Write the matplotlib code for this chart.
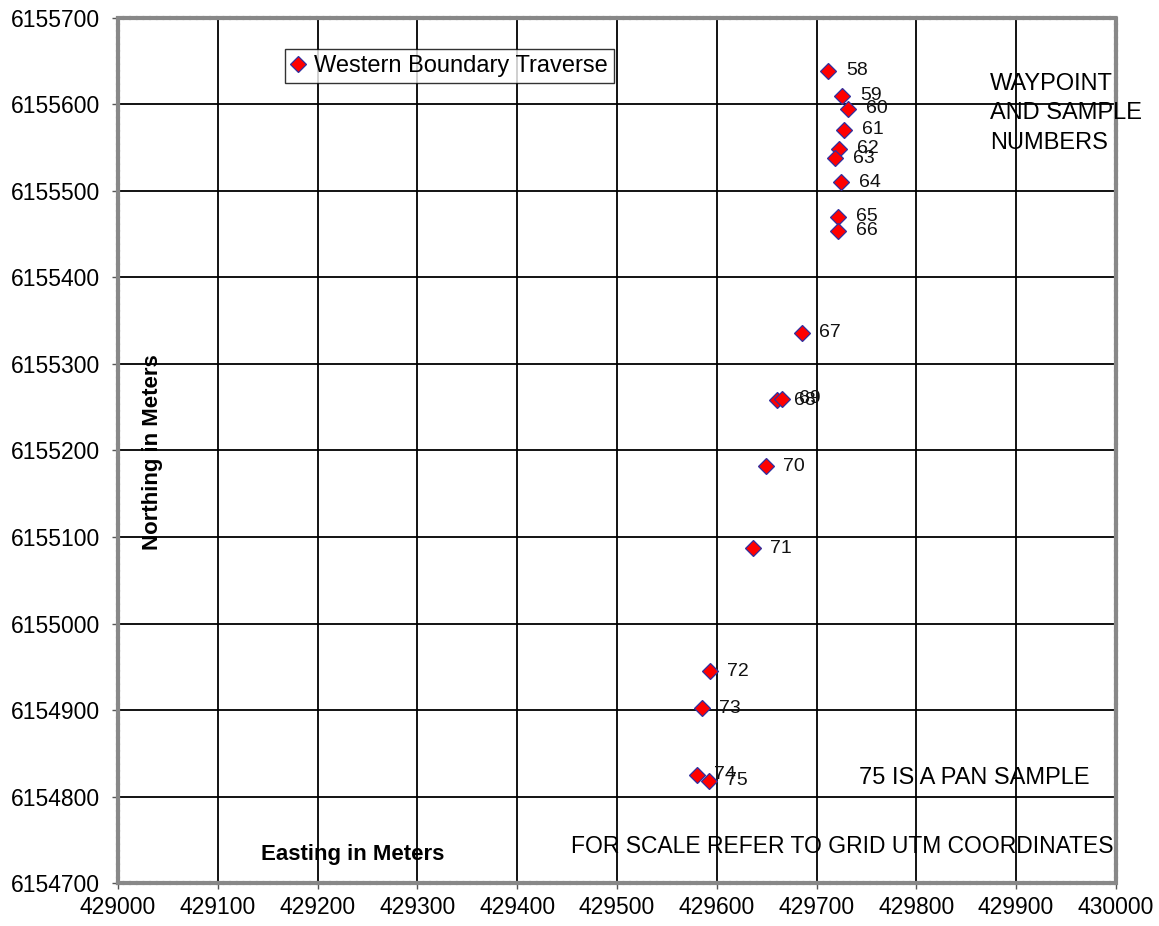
import matplotlib.pyplot as plt
import numpy as np

plt.rcParams['font.family'] = ['Liberation Sans', 'DejaVu Sans']

# waypoint / sample positions (UTM easting, northing)
samples = ['58', '59', '60', '61', '62', '63', '64', '65', '66', '67',
           '68', '69', '70', '71', '72', '73', '74', '75']
easting = [429712, 429726, 429732, 429728, 429723, 429719, 429725, 429722, 429722,
           429685, 429660, 429665, 429649, 429636, 429593, 429585, 429580, 429592]
northing = [6155639, 6155610, 6155595, 6155571, 6155549, 6155538, 6155510, 6155470,
            6155454, 6155336, 6155258, 6155260, 6155182, 6155087, 6154945, 6154902,
            6154825, 6154818]

xticks = list(range(429000, 430001, 100))
yticks = list(range(6154700, 6155701, 100))

fig = plt.figure(figsize=(11.59, 9.26), dpi=100)
ax = fig.add_axes([0.1018, 0.0464, 0.861, 0.9342])

ax.plot(easting, northing, linestyle='none', marker='D', markersize=8.5,
        markerfacecolor='#ff0000', markeredgecolor='#3030a0', markeredgewidth=0.9,
        label='Western Boundary Traverse', zorder=3)

for name, e, n in zip(samples, easting, northing):
    ax.annotate(name, (e, n), xytext=(12.5, 0), textcoords='offset points',
                va='center', ha='left', fontsize=14, color='#111111')

ax.set_xlim(429000, 430000)
ax.set_ylim(6154700, 6155700)
ax.set_xticks(xticks)
ax.set_yticks(yticks)
ax.set_xticklabels([str(v) for v in xticks], fontsize=16.5)
ax.set_yticklabels([str(v) for v in yticks], fontsize=16.5)
ax.tick_params(axis='y', length=4, width=1, color='#555555', pad=9)
ax.tick_params(axis='x', length=4, width=1, color='#555555', pad=5)

ax.grid(True, color='black', linewidth=1.3)
ax.set_axisbelow(True)
for s in ax.spines.values():
    s.set_color('#888888')
    s.set_linewidth(3)
    s.set_linestyle((0, (1, 0.6)))

leg = ax.legend(loc='upper left', bbox_to_anchor=(0.167, 0.964), fontsize=17,
                frameon=True, fancybox=False, edgecolor='black', handlelength=0.6,
                handletextpad=0.4, borderpad=0.25, borderaxespad=0)
leg.get_frame().set_linewidth(1.0)

ax.text(429874, 6155636, 'WAYPOINT\nAND SAMPLE\nNUMBERS', fontsize=17,
        va='top', ha='left', linespacing=1.42)
ax.text(429974, 6154821, '75 IS A PAN SAMPLE', fontsize=17, va='center', ha='right')
ax.text(429998, 6154742, 'FOR SCALE REFER TO GRID UTM COORDINATES', fontsize=16.5,
        va='center', ha='right')
ax.text(429235, 6154733, 'Easting in Meters', fontsize=16, fontweight='bold',
        va='center', ha='center')
ax.text(429035, 6155198, 'Northing in Meters', fontsize=16, fontweight='bold',
        va='center', ha='center', rotation=90)

fig.savefig('out.png', dpi=100)
